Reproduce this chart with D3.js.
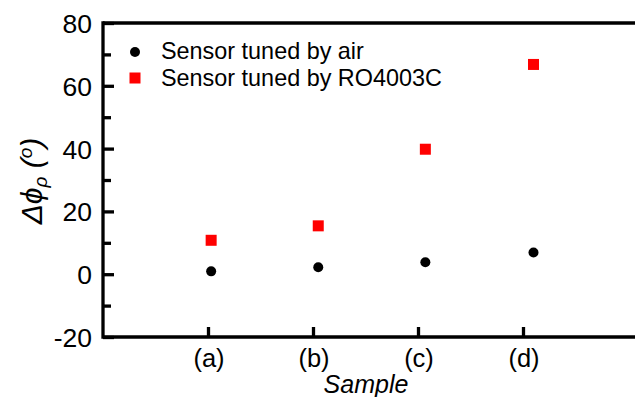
<!DOCTYPE html>
<html><head><meta charset="utf-8">
<script src="https://cdn.jsdelivr.net/npm/d3@7/dist/d3.min.js"></script>
<style>
html,body{margin:0;padding:0;background:#fff;}
svg{display:block;font-family:"Liberation Sans",Arial,sans-serif;}
</style></head>
<body>
<svg id="chart" width="635" height="397"></svg>
<script>
// ---- data ----
const categories = ["(a)", "(b)", "(c)", "(d)"];
const categoryPos = [1, 2, 3, 4];
const pointPos = [1.03, 2.05, 3.07, 4.1];
const airValues = [0.9, 2.2, 3.8, 6.9];
const roValues = [10.8, 15.4, 39.8, 66.8];
const yTicks = [-20, 0, 20, 40, 60, 80];
const yMinorTicks = [-10, 10, 30, 50, 70];
const seriesNames = ["Sensor tuned by air", "Sensor tuned by RO4003C"];

const svg = d3.select("#chart");
const x = d3.scaleLinear().domain([0, 5]).range([103, 628]);
const y = d3.scaleLinear().domain([-20, 80]).range([337, 23]);
const lw = 3.3;

// frame (top and bottom lines extend past right edge)
svg.append("line").attr("x1", x(0)).attr("x2", 640).attr("y1", y(80)).attr("y2", y(80))
  .attr("stroke", "#000").attr("stroke-width", lw);
svg.append("line").attr("x1", x(0)).attr("x2", 640).attr("y1", y(-20)).attr("y2", y(-20))
  .attr("stroke", "#000").attr("stroke-width", lw);
svg.append("line").attr("x1", x(0)).attr("x2", x(0)).attr("y1", y(80) - lw/2).attr("y2", y(-20) + lw/2)
  .attr("stroke", "#000").attr("stroke-width", lw);

// y axis: major ticks inward
const yAxis = d3.axisRight(y).tickValues(yTicks).tickSize(11).tickFormat("");
const gy = svg.append("g").attr("transform", `translate(${x(0)},0)`).call(yAxis);
gy.select(".domain").remove();
gy.selectAll(".tick line").attr("stroke-width", lw);
const yAxisMinor = d3.axisRight(y).tickValues(yMinorTicks).tickSize(8).tickFormat("");
const gym = svg.append("g").attr("transform", `translate(${x(0)},0)`).call(yAxisMinor);
gym.select(".domain").remove();
gym.selectAll(".tick line").attr("stroke-width", lw);

svg.append("g").selectAll("text").data(yTicks).join("text")
  .attr("x", 92).attr("y", d => y(d) + 10)
  .attr("text-anchor", "end").attr("font-size", 26.5).attr("fill", "#000")
  .text(d => d);

// x axis: ticks inward
const xAxis = d3.axisTop(x).tickValues(categoryPos).tickSize(10).tickFormat("");
const gx = svg.append("g").attr("transform", `translate(0,${y(-20)})`).call(xAxis);
gx.select(".domain").remove();
gx.selectAll(".tick line").attr("stroke-width", lw);

svg.append("g").selectAll("text").data(categories).join("text")
  .attr("x", (d, i) => x(categoryPos[i]) + 1).attr("y", 366.5)
  .attr("text-anchor", "middle").attr("font-size", 25.5).attr("fill", "#000")
  .text(d => d);

svg.append("text").attr("x", 366).attr("y", 393).attr("text-anchor", "middle")
  .attr("font-size", 25).attr("font-style", "italic").text("Sample");

// y label
const yl = svg.append("text").attr("transform", "translate(42,181) rotate(-90)")
  .attr("text-anchor", "middle").attr("font-size", 30).attr("font-style", "italic");
yl.append("tspan").text("Δϕ");
yl.append("tspan").attr("font-size", 19).attr("dy", 5).text("ρ");
yl.append("tspan").attr("dy", -5).text(" (");
yl.append("tspan").attr("font-size", 19).attr("dy", -10).text("o");
yl.append("tspan").attr("dy", 10).text(")");

// points
svg.append("g").selectAll("circle").data(airValues).join("circle")
  .attr("cx", (d, i) => x(pointPos[i])).attr("cy", d => y(d)).attr("r", 5).attr("fill", "#000");
const sq = 11;
svg.append("g").selectAll("rect").data(roValues).join("rect")
  .attr("x", (d, i) => x(pointPos[i]) - sq/2).attr("y", d => y(d) - sq/2)
  .attr("width", sq).attr("height", sq).attr("fill", "#ff0000");

// legend
svg.append("circle").attr("cx", 135).attr("cy", 52).attr("r", 5).attr("fill", "#000");
svg.append("rect").attr("x", 135 - sq/2).attr("y", 78 - sq/2).attr("width", sq).attr("height", sq).attr("fill", "#ff0000");
svg.append("text").attr("x", 161).attr("y", 59).attr("font-size", 23.4).text(seriesNames[0]);
svg.append("text").attr("x", 161).attr("y", 86).attr("font-size", 23.4).text(seriesNames[1]);
</script>
</body></html>
